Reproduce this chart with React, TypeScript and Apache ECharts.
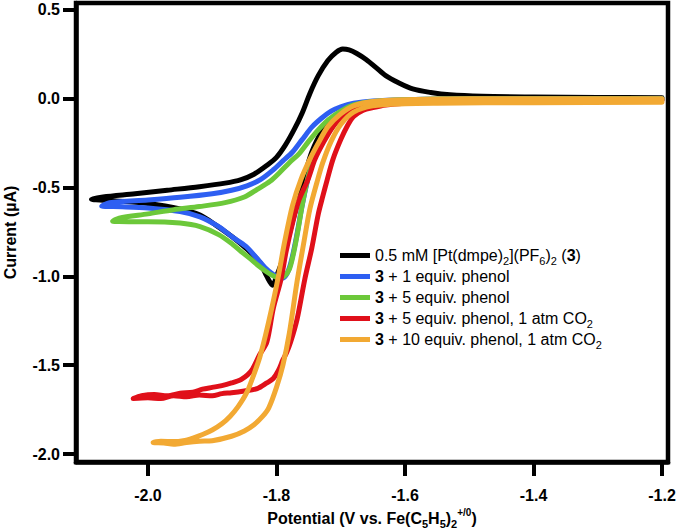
import React, { useEffect, useRef } from "react";
import * as echarts from "echarts";

// Potential (V) / current (µA) pairs, each a closed CV loop
const blackCV: number[][] = [
  [-1.2, 0.005], [-1.3, 0.003], [-1.4, 0.0], [-1.5, -0.005], [-1.58, -0.01], [-1.63, -0.02], [-1.66, -0.035], [-1.69, -0.065], [-1.71, -0.11], [-1.73, -0.19], [-1.745, -0.3], [-1.755, -0.42], [-1.767, -0.58], [-1.78, -0.76], [-1.79, -0.9], [-1.8, -1.0], [-1.806, -1.05], [-1.815, -1.0], [-1.826, -0.92], [-1.845, -0.85], [-1.868, -0.78], [-1.895, -0.71], [-1.919, -0.655], [-1.95, -0.62], [-2.0, -0.59], [-2.05, -0.575], [-2.088, -0.565],
  [-2.07, -0.553], [-2.02, -0.535], [-1.97, -0.515], [-1.92, -0.495], [-1.88, -0.475], [-1.855, -0.455], [-1.835, -0.425], [-1.815, -0.375], [-1.8, -0.33], [-1.786, -0.26], [-1.772, -0.17], [-1.76, -0.08], [-1.748, 0.03], [-1.735, 0.13], [-1.72, 0.215], [-1.707, 0.262], [-1.697, 0.28], [-1.687, 0.275], [-1.675, 0.255], [-1.66, 0.22], [-1.645, 0.175], [-1.63, 0.13], [-1.61, 0.09], [-1.588, 0.055], [-1.56, 0.035], [-1.53, 0.022], [-1.48, 0.014], [-1.4, 0.01], [-1.3, 0.007], [-1.2, 0.006],
];

const blueCV: number[][] = [
  [-1.2, -0.002], [-1.4, -0.005], [-1.55, -0.01], [-1.62, -0.02], [-1.66, -0.04], [-1.69, -0.075], [-1.71, -0.13], [-1.73, -0.23], [-1.742, -0.33], [-1.751, -0.45], [-1.76, -0.6], [-1.768, -0.76], [-1.776, -0.9], [-1.783, -0.98], [-1.791, -1.01], [-1.8, -1.0], [-1.805, -0.99], [-1.818, -0.95], [-1.83, -0.9], [-1.848, -0.83], [-1.868, -0.78], [-1.89, -0.72], [-1.919, -0.665], [-1.95, -0.635], [-2.0, -0.615], [-2.04, -0.608], [-2.072, -0.605],
  [-2.06, -0.585], [-2.0, -0.57], [-1.95, -0.555], [-1.9, -0.535], [-1.87, -0.515], [-1.846, -0.49], [-1.825, -0.455], [-1.805, -0.4], [-1.79, -0.35], [-1.775, -0.3], [-1.76, -0.23], [-1.745, -0.16], [-1.73, -0.11], [-1.715, -0.07], [-1.7, -0.045], [-1.68, -0.025], [-1.65, -0.012], [-1.6, -0.005], [-1.5, 0.0], [-1.2, 0.0],
];

const greenCV: number[][] = [
  [-1.2, -0.008], [-1.4, -0.01], [-1.55, -0.015], [-1.62, -0.025], [-1.66, -0.045], [-1.69, -0.08], [-1.71, -0.14], [-1.728, -0.23], [-1.742, -0.34], [-1.752, -0.46], [-1.76, -0.6], [-1.767, -0.75], [-1.774, -0.88], [-1.78, -0.96], [-1.788, -1.0], [-1.797, -1.008], [-1.806, -0.995], [-1.815, -0.975], [-1.828, -0.94], [-1.841, -0.9], [-1.855, -0.86], [-1.868, -0.82], [-1.89, -0.765], [-1.919, -0.72], [-1.95, -0.7], [-2.0, -0.692], [-2.03, -0.692], [-2.055, -0.69],
  [-2.045, -0.672], [-2.0, -0.648], [-1.96, -0.625], [-1.92, -0.607], [-1.88, -0.585], [-1.85, -0.553], [-1.83, -0.51], [-1.81, -0.465], [-1.795, -0.415], [-1.78, -0.36], [-1.765, -0.31], [-1.75, -0.24], [-1.735, -0.175], [-1.72, -0.12], [-1.7, -0.07], [-1.68, -0.035], [-1.65, -0.015], [-1.6, -0.005], [-1.5, 0.0], [-1.2, 0.0],
];

const redCV: number[][] = [
  [-1.2, -0.01], [-1.4, -0.012], [-1.55, -0.018], [-1.6, -0.025], [-1.63, -0.035], [-1.65, -0.05], [-1.665, -0.065], [-1.68, -0.1], [-1.69, -0.155], [-1.7, -0.23], [-1.712, -0.34], [-1.721, -0.455], [-1.728, -0.55], [-1.735, -0.65], [-1.745, -0.84], [-1.756, -1.017], [-1.768, -1.242], [-1.778, -1.37], [-1.784, -1.427], [-1.79, -1.47], [-1.797, -1.53], [-1.805, -1.575], [-1.815, -1.6], [-1.83, -1.632], [-1.85, -1.645], [-1.87, -1.655], [-1.885, -1.66], [-1.9, -1.672], [-1.92, -1.668], [-1.94, -1.678], [-1.96, -1.672], [-1.98, -1.688], [-2.0, -1.683], [-2.023, -1.688],
  [-2.01, -1.672], [-1.99, -1.665], [-1.97, -1.672], [-1.95, -1.658], [-1.93, -1.652], [-1.915, -1.635], [-1.9, -1.625], [-1.885, -1.615], [-1.87, -1.6], [-1.855, -1.58], [-1.845, -1.555], [-1.837, -1.52], [-1.826, -1.44], [-1.815, -1.37], [-1.805, -1.18], [-1.793, -1.017], [-1.785, -0.86], [-1.775, -0.7], [-1.765, -0.57], [-1.751, -0.455], [-1.74, -0.34], [-1.726, -0.24], [-1.712, -0.157], [-1.695, -0.09], [-1.675, -0.05], [-1.65, -0.03], [-1.6, -0.015], [-1.5, -0.01], [-1.2, -0.005],
];

const orangeCV: number[][] = [
  [-1.2, -0.02], [-1.4, -0.022], [-1.55, -0.025], [-1.6, -0.028], [-1.65, -0.04], [-1.68, -0.075], [-1.7, -0.145], [-1.715, -0.24], [-1.728, -0.36], [-1.737, -0.47], [-1.748, -0.62], [-1.757, -0.8], [-1.768, -1.03], [-1.78, -1.32], [-1.79, -1.5], [-1.8, -1.625], [-1.812, -1.74], [-1.822, -1.79], [-1.835, -1.835], [-1.85, -1.87], [-1.87, -1.9], [-1.9, -1.925], [-1.92, -1.928], [-1.94, -1.935], [-1.96, -1.945], [-1.975, -1.938], [-1.992, -1.935],
  [-1.98, -1.928], [-1.96, -1.93], [-1.945, -1.925], [-1.93, -1.91], [-1.915, -1.89], [-1.9, -1.865], [-1.885, -1.83], [-1.872, -1.787], [-1.86, -1.735], [-1.846, -1.652], [-1.835, -1.55], [-1.826, -1.455], [-1.817, -1.33], [-1.808, -1.19], [-1.798, -1.017], [-1.787, -0.8], [-1.775, -0.6], [-1.762, -0.455], [-1.748, -0.34], [-1.735, -0.25], [-1.72, -0.157], [-1.7, -0.085], [-1.68, -0.04], [-1.65, -0.015], [-1.6, -0.005], [-1.5, 0.0], [-1.2, 0.0],
];

const seriesNames = [
  "0.5 mM [Pt(dmpe)2](PF6)2 (3)",
  "3 + 1 equiv. phenol",
  "3 + 5 equiv. phenol",
  "3 + 5 equiv. phenol, 1 atm CO2",
  "3 + 10 equiv. phenol, 1 atm CO2",
];
const legendRich = [
  "{t|0.5 mM [Pt(dmpe)}{s|2}{t|](PF}{s|6}{t|)}{s|2}{t| (}{b|3}{t|)}",
  "{b|3}{t| + 1 equiv. phenol}",
  "{b|3}{t| + 5 equiv. phenol}",
  "{b|3}{t| + 5 equiv. phenol, 1 atm CO}{s|2}",
  "{b|3}{t| + 10 equiv. phenol, 1 atm CO}{s|2}",
];
const seriesColors = ["#000000", "#2e5ff2", "#6cc83a", "#e0101a", "#f2a933"];
const seriesData = [blackCV, blueCV, greenCV, redCV, orangeCV];

const xTicks = [-2.0, -1.8, -1.6, -1.4, -1.2];
const yTicks = [-2.0, -1.5, -1.0, -0.5, 0.0, 0.5];

const FONT = "'Liberation Sans', Arial, Helvetica, sans-serif";

export default function App() {
  const ref = useRef<HTMLDivElement>(null);
  useEffect(() => {
    if (!ref.current) return;
    const chart = echarts.init(ref.current, undefined, { renderer: "svg" });
    const tickLabel = {
      fontFamily: FONT,
      fontWeight: "bold" as const,
      fontSize: 16,
      color: "#000",
    };
    chart.setOption({
      animation: false,
      backgroundColor: "#fff",
      grid: {
        left: 76,
        right: 9,
        top: 3,
        bottom: 67,
        show: true,
        borderColor: "#000",
        borderWidth: 4.5,
        containLabel: false,
        outerBoundsMode: "none",
      },
      legend: {
        orient: "vertical",
        left: 335,
        top: 240,
        icon: "rect",
        itemWidth: 30,
        itemHeight: 5,
        itemGap: 0,
        data: seriesNames,
        formatter: (name: string) => legendRich[seriesNames.indexOf(name)],
        textStyle: {
          fontFamily: FONT,
          fontSize: 16,
          color: "#000",
          lineHeight: 21,
          rich: {
            t: { fontFamily: FONT, fontSize: 16, color: "#000", lineHeight: 21 },
            b: { fontFamily: FONT, fontSize: 16, fontWeight: "bold", color: "#000", lineHeight: 21 },
            s: { fontFamily: FONT, fontSize: 11, color: "#000", lineHeight: 12, verticalAlign: "bottom" },
          },
        },
      },
      xAxis: {
        type: "value",
        min: -2.112,
        max: -1.1907,
        splitLine: { show: false },
        axisLine: { onZero: false, lineStyle: { color: "#000", width: 4.5 } },
        axisTick: { customValues: xTicks, length: 14, lineStyle: { color: "#000", width: 4 } },
        axisLabel: {
          customValues: xTicks,
          margin: 25,
          formatter: (v: number) => v.toFixed(1),
          ...tickLabel,
        },
        name: "{t|Potential (V vs. Fe(C}{s|5}{t|H}{s|5}{t|)}{s|2}{p|+/0}{t|)}",
        nameLocation: "middle",
        nameGap: 43,
        nameTextStyle: {
          fontFamily: FONT,
          fontWeight: "bold",
          fontSize: 16,
          color: "#000",
          rich: {
            t: { fontFamily: FONT, fontWeight: "bold", fontSize: 16, color: "#000", lineHeight: 22 },
            s: { fontFamily: FONT, fontWeight: "bold", fontSize: 11, color: "#000", lineHeight: 12, verticalAlign: "bottom" },
            p: { fontFamily: FONT, fontWeight: "bold", fontSize: 10, color: "#000", lineHeight: 10, verticalAlign: "top" },
          },
        },
      },
      yAxis: {
        type: "value",
        min: -2.045,
        max: 0.539,
        splitLine: { show: false },
        axisLine: { onZero: false, lineStyle: { color: "#000", width: 4.5 } },
        axisTick: { customValues: yTicks, length: 13, lineStyle: { color: "#000", width: 4 } },
        axisLabel: {
          customValues: yTicks,
          margin: 16,
          formatter: (v: number) => v.toFixed(1),
          ...tickLabel,
        },
        name: "Current (µA)",
        nameLocation: "middle",
        nameGap: 58,
        nameTextStyle: {
          fontFamily: FONT,
          fontWeight: "bold",
          fontSize: 16,
          color: "#000",
        },
      },
      series: seriesData.map((d, i) => ({
        type: "line",
        name: seriesNames[i],
        data: d,
        showSymbol: false,
        symbol: "none",
        smooth: 0.3,
        color: seriesColors[i],
        lineStyle: { color: seriesColors[i], width: 5, cap: "round", join: "round" },
        z: 2 + i,
      })),
    });
    return () => chart.dispose();
  }, []);
  return (
    <div
      ref={ref}
      style={{ position: "absolute", left: 0, top: 0, width: 677, height: 529, background: "#fff" }}
    />
  );
}
